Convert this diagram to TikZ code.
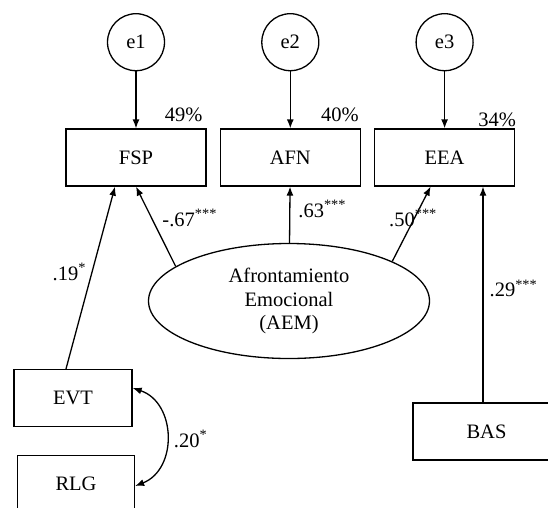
\documentclass[tikz,border=0pt]{standalone}
\usepackage{fontspec}
\setmainfont{Liberation Serif}
\usetikzlibrary{arrows.meta,positioning,shapes.geometric}

\begin{document}
\begin{tikzpicture}[
  x=1pt, y=-1pt,
  font=\fontsize{20.5}{23.3}\selectfont,
  node distance=57pt and 13pt,
  >={Latex[length=9pt,width=7pt]},
  err/.style={draw, circle, minimum size=57pt, inner sep=0pt, line width=1.3pt},
  obs/.style={draw, minimum width=#1, minimum height=57pt, inner sep=0pt,
              line width=1.3pt},
  obs/.default=140pt,
  lat/.style={draw, ellipse, minimum width=281pt, minimum height=115pt,
              inner sep=0pt, align=center, line width=1.3pt},
  arr/.style={->, line width=1.3pt},
  dbl/.style={<->, line width=1.3pt},
  coef/.style={inner sep=0pt}
]
\useasboundingbox (0,0) rectangle (548,507);

\node[obs] (fsp) at (136,157.5) {FSP};
\node[obs, right=of fsp] (afn) {AFN};
\node[obs, right=of afn] (eea) {EEA};
\node[err, above=of fsp] (e1) {e1};
\node[err, above=of afn] (e2) {e2};
\node[err, above=of eea] (e3) {e3};
\node[lat] (aem) at (289,301) {Afrontamiento\\Emocional\\(AEM)};
\node[obs=118pt] (evt) at (73,398) {EVT};
\node[obs=117pt] (rlg) at (76,484) {RLG};
\node[obs=147pt] (bas) at (486.5,431.5) {BAS};

% explained variance
\node[coef, anchor=base east] (r1) at ([xshift=-4pt,yshift=7pt]fsp.north east) {49\%};
\node[coef, anchor=base east] (r2) at ([xshift=-2pt,yshift=7pt]afn.north east) {40\%};
\node[coef, anchor=base east] (r3) at ([xshift=1pt,yshift=2.3pt]eea.north east) {34\%};

\draw[arr] (e1) -- (fsp);
\draw[arr] (e2) -- (afn);
\draw[arr] (e3) -- (eea);

\draw[arr] (aem.163) -- node[coef, pos=.5, anchor=base west, xshift=6pt]
    {-.67\textsuperscript{***}} (fsp.south);
\draw[arr] (aem) -- node[coef, pos=.46, anchor=base west, xshift=8pt]
    {.63\textsuperscript{***}} (afn);
\draw[arr] (aem.21) -- node[coef, pos=.47, anchor=base west, xshift=-21.7pt]
    {.50\textsuperscript{***}} ([xshift=-14pt]eea.south);
\draw[arr] ([xshift=-7pt]evt.north) -- node[coef, pos=.486, anchor=base west, xshift=-37.8pt]
    {.19\textsuperscript{*}} ([xshift=-21pt]fsp.south);
\draw[arr] ([xshift=-3.5pt]bas.north) -- node[coef, pos=.49, anchor=base west, xshift=6pt]
    {.29\textsuperscript{***}} ([xshift=-3.5pt]bas.north |- eea.south);
\draw[dbl] ([yshift=10pt]evt.east) to[bend left=70, looseness=1.2]
    node[coef, pos=.5, anchor=base west, xshift=7pt, yshift=-11pt]
    {.20\textsuperscript{*}} ([yshift=-2pt]rlg.east);
\end{tikzpicture}
\end{document}
